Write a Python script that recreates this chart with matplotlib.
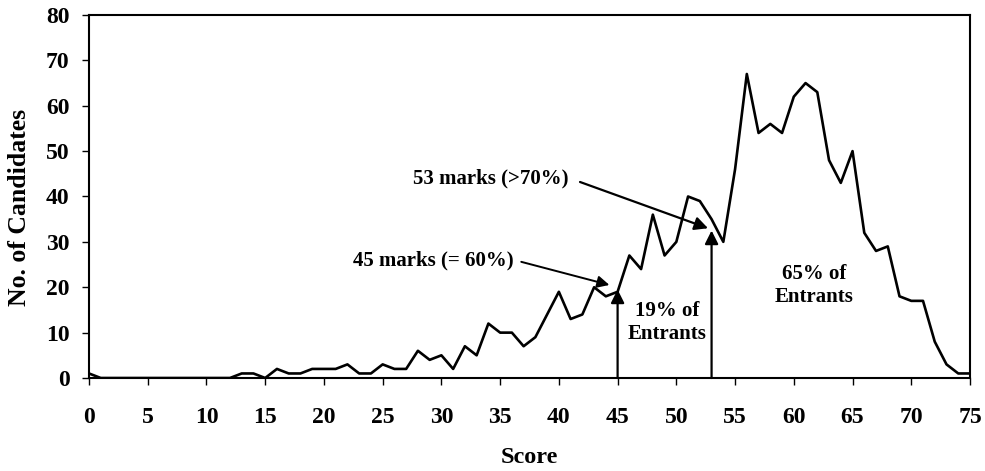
import matplotlib
matplotlib.use("Agg")
import matplotlib.pyplot as plt

scores = list(range(0, 76))
counts = [1, 0, 0, 0, 0, 0, 0, 0, 0, 0,
          0, 0, 0, 1, 1, 0, 2, 1, 1, 2,
          2, 2, 3, 1, 1, 3, 2, 2, 6, 4,
          5, 2, 7, 5, 12, 10, 10, 7, 9, 14,
          19, 13, 14, 20, 18, 19, 27, 24, 36, 27,
          30, 40, 39, 35, 30, 46, 67, 54, 56, 54,
          62, 65, 63, 48, 43, 50, 32, 28, 29, 18,
          17, 17, 8, 3, 1, 1]

xticks = list(range(0, 80, 5))
yticks = list(range(0, 90, 10))

plt.rcParams['font.family'] = ['Liberation Serif', 'DejaVu Serif']
plt.rcParams['font.weight'] = 'bold'

fig = plt.figure(figsize=(9.85, 4.71), dpi=100)
ax = fig.add_axes([89/985, 1 - 378/471, (970-89)/985, (378-15)/471])
ax.plot(scores, counts, color='black', lw=1.9)
ax.set_xlim(0, 75)
ax.set_ylim(0, 80)
ax.set_xticks(xticks)
ax.set_yticks(yticks)
ax.tick_params(axis='both', direction='out', length=5, width=1, labelsize=17)
ax.tick_params(axis='x', pad=16)
ax.tick_params(axis='y', pad=9)
for lbl in ax.get_xticklabels() + ax.get_yticklabels():
    lbl.set_fontweight('bold')
for s in ax.spines.values():
    s.set_linewidth(1.5)

ax.set_xlabel('Score', fontsize=17.5, fontweight='bold')
ax.xaxis.set_label_coords(0.5, -(447 - 378) / 363)
ax.set_ylabel('No. of Candidates', fontsize=18.5, fontweight='bold')
ax.yaxis.set_label_coords((31 - 89) / 881, (378 - 207) / 363)

arrow_kw = dict(arrowstyle='-|>', color='black', lw=1.6, mutation_scale=20,
                shrinkA=0, shrinkB=0)
# vertical arrows
ax.annotate('', xy=(45, 19.5), xytext=(45, 0), arrowprops=arrow_kw)
ax.annotate('', xy=(53, 32.5), xytext=(53, 0), arrowprops=arrow_kw)
# labelled arrows
ax.text(29.3, 26.0, '45 marks (= 60%)', ha='center', va='center', fontsize=15,
        fontweight='bold')
ax.annotate('', xy=(44.3, 20.5), xytext=(36.8, 25.6),
            arrowprops=dict(arrowstyle='-|>', color='black', lw=1.4,
                            mutation_scale=18, shrinkA=0, shrinkB=0))
ax.text(34.2, 44.0, '53 marks (>70%)', ha='center', va='center', fontsize=15,
        fontweight='bold')
ax.annotate('', xy=(52.7, 33.0), xytext=(41.8, 43.2),
            arrowprops=dict(arrowstyle='-|>', color='black', lw=1.6,
                            mutation_scale=20, shrinkA=0, shrinkB=0))
ax.text(49.2, 12.2, '19% of\nEntrants', ha='center', va='center', fontsize=15,
        fontweight='bold', linespacing=1.2)
ax.text(61.7, 20.3, '65% of\nEntrants', ha='center', va='center', fontsize=15,
        fontweight='bold', linespacing=1.2)

fig.savefig('out.png', dpi=100)
